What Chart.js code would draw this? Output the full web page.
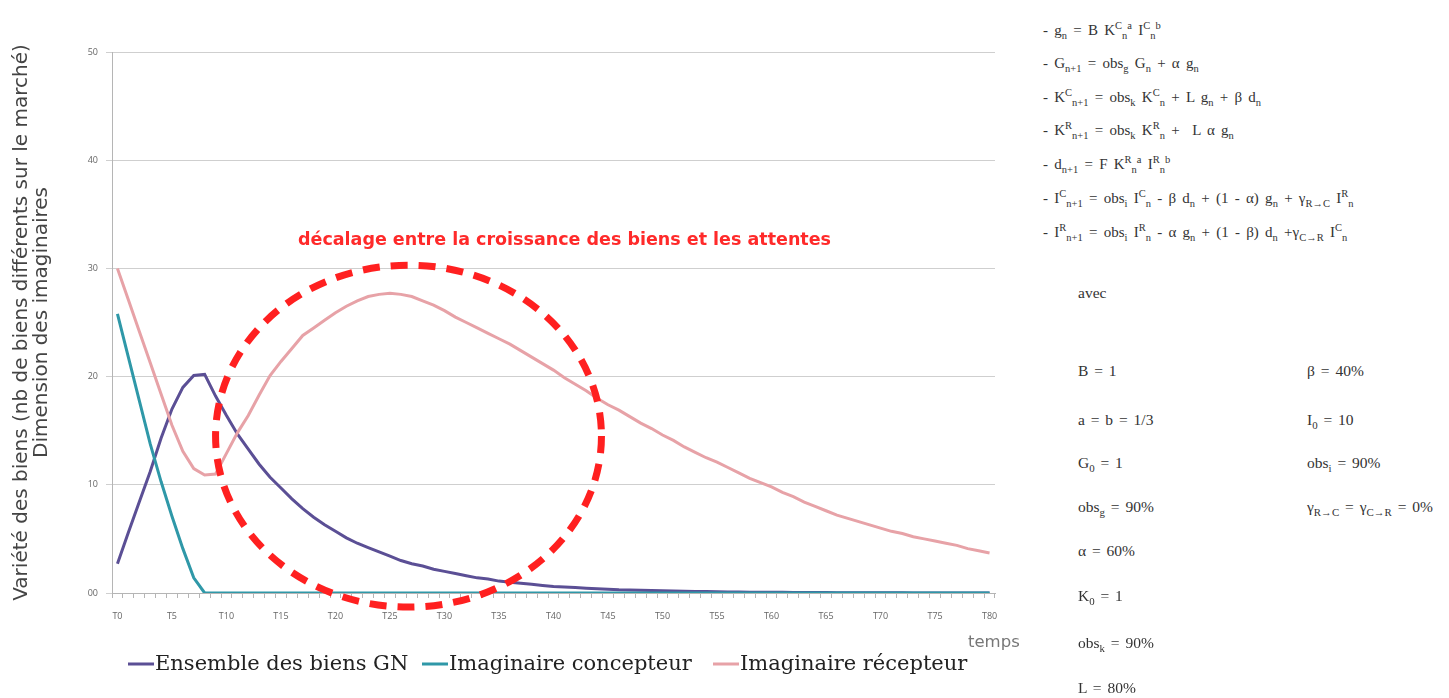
<!DOCTYPE html>
<html>
<head>
<meta charset="utf-8">
<script src="https://cdn.jsdelivr.net/npm/chart.js@4"></script>
<style>
  html, body { margin: 0; padding: 0; background: #fff; }
  body { width: 1449px; height: 698px; position: relative; overflow: hidden; }
  #chartBox { position: absolute; left: 0; top: 0; width: 1040px; height: 698px; }
  .t { position: absolute; white-space: nowrap; line-height: 1; transform: translateY(-50%); }
  .note { font-family: "DejaVu Sans", sans-serif; font-weight: bold; font-size: 17.5px; color: #ff2a2a; }
  .temps { font-family: "DejaVu Sans", sans-serif; font-size: 16.5px; color: #777; }
  .leg { font-family: "DejaVu Serif", serif; font-size: 21px; color: #222; }
  .leg i { position: absolute; top: 50%; height: 3px; width: 26px; margin-top: -1px; }
  .eq { font-family: "Liberation Serif", serif; font-size: 15px; word-spacing: 2.5px; color: #333; }
  .par { font-family: "Liberation Serif", serif; font-size: 15.5px; word-spacing: 2px; color: #333; }
  sub, sup { font-size: 70%; line-height: 0; }
</style>
</head>
<body>
<div id="chartBox"><canvas id="trend"></canvas></div>

<div class="t note" style="left:298px; top:240px;">décalage entre la croissance des biens et les attentes</div>
<div class="t temps" style="left:968px; top:642px;">temps</div>

<div class="t leg" style="left:128px; top:663px; padding-left:27px;"><i style="left:0; background:#5b4f95;"></i>Ensemble des biens GN</div>
<div class="t leg" style="left:422px; top:663px; padding-left:27px;"><i style="left:0; background:#2f98a8;"></i>Imaginaire concepteur</div>
<div class="t leg" style="left:713px; top:663px; padding-left:27px;"><i style="left:0; background:#e7a2a7;"></i>Imaginaire récepteur</div>

<div class="t eq" style="left:1043px; top:30px;">- g<sub>n</sub> = B K<sup>C</sup><sub>n</sub><sup>a</sup> I<sup>C</sup><sub>n</sub><sup>b</sup></div>
<div class="t eq" style="left:1043px; top:63px;">- G<sub>n+1</sub> = obs<sub>g</sub> G<sub>n</sub> + α g<sub>n</sub></div>
<div class="t eq" style="left:1043px; top:97px;">- K<sup>C</sup><sub>n+1</sub> = obs<sub>k</sub> K<sup>C</sup><sub>n</sub> + L g<sub>n</sub> + β d<sub>n</sub></div>
<div class="t eq" style="left:1043px; top:130px;">- K<sup>R</sup><sub>n+1</sub> = obs<sub>k</sub> K<sup>R</sup><sub>n</sub> + &nbsp;L α g<sub>n</sub></div>
<div class="t eq" style="left:1043px; top:164px;">- d<sub>n+1</sub> = F K<sup>R</sup><sub>n</sub><sup>a</sup> I<sup>R</sup><sub>n</sub><sup>b</sup></div>
<div class="t eq" style="left:1043px; top:198px;">- I<sup>C</sup><sub>n+1</sub> = obs<sub>i</sub> I<sup>C</sup><sub>n</sub> - β d<sub>n</sub> + (1 - α) g<sub>n</sub> + γ<sub>R→C</sub> I<sup>R</sup><sub>n</sub></div>
<div class="t eq" style="left:1043px; top:232px;">- I<sup>R</sup><sub>n+1</sub> = obs<sub>i</sub> I<sup>R</sup><sub>n</sub> - α g<sub>n</sub> + (1 - β) d<sub>n</sub> +γ<sub>C→R</sub> I<sup>C</sup><sub>n</sub></div>

<div class="t par" style="left:1078px; top:293px;">avec</div>
<div class="t par" style="left:1078px; top:371px;">B = 1</div>
<div class="t par" style="left:1078px; top:420px;">a = b = 1/3</div>
<div class="t par" style="left:1078px; top:463px;">G<sub>0</sub> = 1</div>
<div class="t par" style="left:1078px; top:507px;">obs<sub>g</sub> = 90%</div>
<div class="t par" style="left:1078px; top:551px;">α = 60%</div>
<div class="t par" style="left:1078px; top:596px;">K<sub>0</sub> = 1</div>
<div class="t par" style="left:1078px; top:643px;">obs<sub>k</sub> = 90%</div>
<div class="t par" style="left:1078px; top:688px;">L = 80%</div>
<div class="t par" style="left:1307px; top:371px;">β = 40%</div>
<div class="t par" style="left:1307px; top:420px;">I<sub>0</sub> = 10</div>
<div class="t par" style="left:1307px; top:463px;">obs<sub>i</sub> = 90%</div>
<div class="t par" style="left:1307px; top:507px;">γ<sub>R→C</sub> = γ<sub>C→R</sub> = 0%</div>

<script>
// time steps T0..T80
const steps = Array.from({ length: 81 }, (_, i) => 'T' + i);

const biensGN = [
    2.7, 5.6, 8.4, 11.2, 14.3, 17.0, 19.0, 20.1, 20.2, 18.2,
    16.4, 14.7, 13.3, 11.9, 10.7, 9.7, 8.7, 7.8, 7.0, 6.3,
    5.7, 5.1, 4.6, 4.2, 3.8, 3.4, 3.0, 2.7, 2.5, 2.2,
    2.0, 1.8, 1.6, 1.4, 1.3, 1.1, 1.0, 0.9, 0.8, 0.7,
    0.6, 0.55, 0.5, 0.45, 0.4, 0.35, 0.3, 0.28, 0.25, 0.22,
    0.2, 0.18, 0.16, 0.14, 0.13, 0.12, 0.1, 0.09, 0.08, 0.07,
    0.06, 0.06, 0.05, 0.05, 0.04, 0.04, 0.03, 0.03, 0.03, 0.02,
    0.02, 0.02, 0.02, 0.01, 0.01, 0.01, 0.01, 0.01, 0.01, 0.01,
    0.01
];

const imagConcepteur = [
    25.8, 21.8, 17.8, 13.8, 10.3, 7.1, 4.1, 1.4, 0, 0,
    0, 0, 0, 0, 0, 0, 0, 0, 0, 0,
    0, 0, 0, 0, 0, 0, 0, 0, 0, 0,
    0, 0, 0, 0, 0, 0, 0, 0, 0, 0,
    0, 0, 0, 0, 0, 0, 0, 0, 0, 0,
    0, 0, 0, 0, 0, 0, 0, 0, 0, 0,
    0, 0, 0, 0, 0, 0, 0, 0, 0, 0,
    0, 0, 0, 0, 0, 0, 0, 0, 0, 0,
    0
];

const imagRecepteur = [
    30.0, 27.1, 24.2, 21.3, 18.4, 15.5, 13.1, 11.5, 10.9, 11.0,
    12.9, 14.8, 16.4, 18.3, 20.1, 21.4, 22.6, 23.8, 24.5, 25.2,
    25.9, 26.5, 27.0, 27.4, 27.6, 27.7, 27.6, 27.4, 27.0, 26.6,
    26.1, 25.5, 25.0, 24.5, 24.0, 23.5, 23.0, 22.4, 21.8, 21.2,
    20.6, 19.9, 19.3, 18.7, 18.0, 17.4, 16.9, 16.3, 15.7, 15.2,
    14.6, 14.1, 13.5, 13.0, 12.5, 12.1, 11.6, 11.1, 10.6, 10.2,
    9.8, 9.3, 8.9, 8.4, 8.0, 7.6, 7.2, 6.9, 6.6, 6.3,
    6.0, 5.7, 5.5, 5.2, 5.0, 4.8, 4.6, 4.4, 4.1, 3.9,
    3.7
];

const yTicks = [0, 10, 20, 30, 40, 50];

// dashed ellipse around the gap, in data units (step index, value)
const gapCenter = [26.7, 14.5];
const gapRadius = [17.7, 15.8];

const gapEllipse = {
    id: 'gapEllipse',
    afterDatasetsDraw(chart) {
        const { ctx, scales: { x, y } } = chart;
        const cx = x.getPixelForValue(gapCenter[0]);
        const cy = y.getPixelForValue(gapCenter[1]);
        const rx = x.getPixelForValue(gapCenter[0] + gapRadius[0]) - cx;
        const ry = cy - y.getPixelForValue(gapCenter[1] + gapRadius[1]);
        ctx.save();
        ctx.strokeStyle = '#ff2020';
        ctx.lineWidth = 7;
        ctx.setLineDash([17, 11]);
        ctx.beginPath();
        ctx.ellipse(cx, cy, rx, ry, 0, 0, Math.PI * 2);
        ctx.stroke();
        ctx.restore();
    }
};

const lineSet = (label, data, color) => ({
    label, data,
    borderColor: color,
    backgroundColor: color,
    borderWidth: 3,
    pointRadius: 0,
    tension: 0
});

new Chart(document.getElementById('trend').getContext('2d'), {
    type: 'line',
    data: {
        labels: steps,
        datasets: [
            lineSet('Imaginaire récepteur', imagRecepteur, '#e7a2a7'),
            lineSet('Imaginaire concepteur', imagConcepteur, '#2f98a8'),
            lineSet('Ensemble des biens GN', biensGN, '#5b4f95')
        ]
    },
    options: {
        responsive: true,
        maintainAspectRatio: false,
        animation: false,
        layout: { padding: { top: 52, right: 45, left: 0, bottom: 0 } },
        plugins: {
            legend: { display: false },
            tooltip: { enabled: false }
        },
        scales: {
            x: {
                offset: true,
                border: { color: '#b5b5b5' },
                grid: { offset: true, drawOnChartArea: false, tickLength: 5, color: '#b5b5b5' },
                ticks: {
                    autoSkip: false,
                    maxRotation: 0,
                    padding: 13,
                    color: '#666',
                    font: { family: 'Open Sans', size: 9 },
                    callback: (v, i) => (i % 5 === 0 ? steps[i] : '')
                },
                afterFit: (s) => { s.height = 105; }
            },
            y: {
                min: 0,
                max: 50,
                border: { color: '#b5b5b5' },
                grid: { color: '#cfcfcf', tickLength: 6 },
                afterBuildTicks: (s) => { s.ticks = yTicks.map(v => ({ value: v })); },
                ticks: {
                    padding: 8,
                    color: '#666',
                    font: { family: 'Open Sans', size: 9 },
                    callback: (v) => (v === 0 ? '00' : v)
                },
                title: {
                    display: true,
                    text: ['Variété des biens (nb de biens différents sur le marché)', 'Dimension des imaginaires'],
                    color: '#444',
                    font: { family: 'DejaVu Sans', size: 20, lineHeight: 1.0 },
                    padding: { top: 12, bottom: 0 }
                },
                afterFit: (s) => { s.width = 112; }
            }
        }
    },
    plugins: [gapEllipse]
});
</script>
</body>
</html>
